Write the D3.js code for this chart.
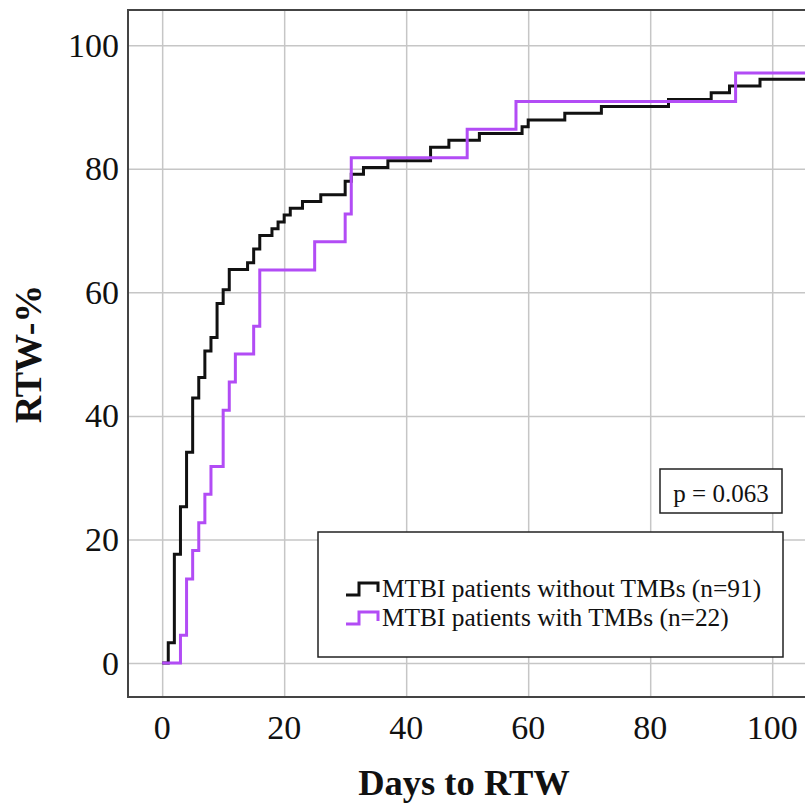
<!DOCTYPE html>
<html>
<head>
<meta charset="utf-8">
<script src="https://cdn.jsdelivr.net/npm/d3@7"></script>
<style>
  body { margin: 0; background: #fff; }
  svg text { font-family: "Liberation Serif", "Times New Roman", serif; }
</style>
</head>
<body>
<div id="chart"></div>
<script>
// data: days to RTW and cumulative RTW-%
const noTmbDays = [0, 1, 2, 3, 4, 5, 6, 7, 8, 9, 10, 11, 14, 15, 16, 18, 19, 20, 21, 23, 26, 30, 31, 33, 37, 44, 47, 52, 59, 60, 66, 72, 83, 90, 93, 98];
const noTmbRtw  = [0, 3.3, 17.6, 25.3, 34.1, 42.9, 46.2, 50.5, 52.7, 58.2, 60.4, 63.7, 64.8, 67.0, 69.2, 70.3, 71.4, 72.5, 73.6, 74.7, 75.8, 78.0, 79.1, 80.2, 81.3, 83.5, 84.6, 85.7, 86.8, 87.9, 89.0, 90.1, 91.2, 92.3, 93.4, 94.5];
const tmbDays = [0, 3, 4, 5, 6, 7, 8, 10, 11, 12, 15, 16, 25, 30, 31, 50, 58, 94];
const tmbRtw  = [0, 4.5, 13.6, 18.2, 22.7, 27.3, 31.8, 40.9, 45.5, 50.0, 54.5, 63.6, 68.2, 72.7, 81.8, 86.4, 90.9, 95.5];
const xTicks = [0, 20, 40, 60, 80, 100];
const yTicks = [0, 20, 40, 60, 80, 100];
const seriesNames = ["MTBI patients without TMBs (n=91)", "MTBI patients with TMBs (n=22)"];
const seriesColors = ["#111111", "#b24cf5"];

const w = 805, h = 808;

const svg = d3.select("#chart").append("svg")
    .attr("width", w)
    .attr("height", h);

const xScale = d3.scaleLinear().domain([-5.6, 106]).range([128, 808.8]);
const yScale = d3.scaleLinear().domain([-5.5, 105.7]).range([697, 10]);

const [plotLeft, plotRight] = xScale.range();
const [plotBottom, plotTop] = yScale.range();

// gridlines
svg.append("g")
    .attr("transform", `translate(0, ${plotBottom})`)
    .call(d3.axisBottom(xScale).tickValues(xTicks).tickSize(-(plotBottom - plotTop)).tickFormat(""))
    .call(g => g.select(".domain").remove())
    .selectAll("line")
    .attr("stroke", "#c6c6c6")
    .attr("stroke-width", 1.5);

svg.append("g")
    .attr("transform", `translate(${plotLeft}, 0)`)
    .call(d3.axisLeft(yScale).tickValues(yTicks).tickSize(-(plotRight - plotLeft)).tickFormat(""))
    .call(g => g.select(".domain").remove())
    .selectAll("line")
    .attr("stroke", "#c6c6c6")
    .attr("stroke-width", 1.5);

// tick labels
svg.append("g")
    .selectAll("text")
    .data(xTicks)
    .enter()
    .append("text")
    .attr("x", d => xScale(d))
    .attr("y", 739)
    .attr("text-anchor", "middle")
    .attr("font-size", "34px")
    .attr("fill", "#111")
    .text(d => d);

svg.append("g")
    .selectAll("text")
    .data(yTicks)
    .enter()
    .append("text")
    .attr("x", 119)
    .attr("y", d => yScale(d))
    .attr("dy", "0.34em")
    .attr("text-anchor", "end")
    .attr("font-size", "34px")
    .attr("fill", "#111")
    .text(d => d);

// frame
svg.append("rect")
    .attr("x", plotLeft)
    .attr("y", plotTop)
    .attr("width", plotRight - plotLeft)
    .attr("height", plotBottom - plotTop)
    .attr("fill", "none")
    .attr("stroke", "#444")
    .attr("stroke-width", 2);

// step curves
const line = d3.line()
    .x(d => xScale(d[0]))
    .y(d => yScale(d[1]))
    .curve(d3.curveStepAfter);

const series = [
    { days: noTmbDays, rtw: noTmbRtw },
    { days: tmbDays, rtw: tmbRtw }
];

series.forEach((s, i) => {
    let pts = s.days.map((d, j) => [d, s.rtw[j]]);
    pts.push([xScale.domain()[1], s.rtw[s.rtw.length - 1]]);
    svg.append("path")
        .datum(pts)
        .attr("d", line)
        .attr("fill", "none")
        .attr("stroke", seriesColors[i])
        .attr("stroke-width", 3);
});

// p value box
svg.append("rect")
    .attr("x", 660).attr("y", 469)
    .attr("width", 122).attr("height", 44)
    .attr("fill", "#fff")
    .attr("stroke", "#222")
    .attr("stroke-width", 1.5);

svg.append("text")
    .attr("x", 721).attr("y", 502)
    .attr("text-anchor", "middle")
    .attr("font-size", "25px")
    .attr("fill", "#111")
    .text("p = 0.063");

// legend
svg.append("rect")
    .attr("x", 318).attr("y", 532)
    .attr("width", 465).attr("height", 125)
    .attr("fill", "#fff")
    .attr("stroke", "#222")
    .attr("stroke-width", 1.5);

let legend = svg.selectAll(".legend")
    .data(seriesNames)
    .enter()
    .append("g")
    .attr("class", "legend")
    .attr("transform", (d, i) => `translate(346, ${597 + i * 29})`);

legend.append("path")
    .attr("d", "M0,-2 H13 V-14 H32 V-5")
    .attr("fill", "none")
    .attr("stroke", (d, i) => seriesColors[i])
    .attr("stroke-width", 3);

legend.append("text")
    .attr("x", 36)
    .attr("y", 0)
    .attr("font-size", "25.4px")
    .attr("fill", "#111")
    .text(d => d);

// axis titles
svg.append("text")
    .attr("x", 464).attr("y", 795)
    .attr("text-anchor", "middle")
    .attr("font-size", "36.5px")
    .attr("font-weight", "bold")
    .attr("fill", "#111")
    .text("Days to RTW");

svg.append("text")
    .attr("transform", "translate(41, 354) rotate(-90)")
    .attr("text-anchor", "middle")
    .attr("font-size", "38px")
    .attr("font-weight", "bold")
    .attr("fill", "#111")
    .text("RTW-%");
</script>
</body>
</html>
